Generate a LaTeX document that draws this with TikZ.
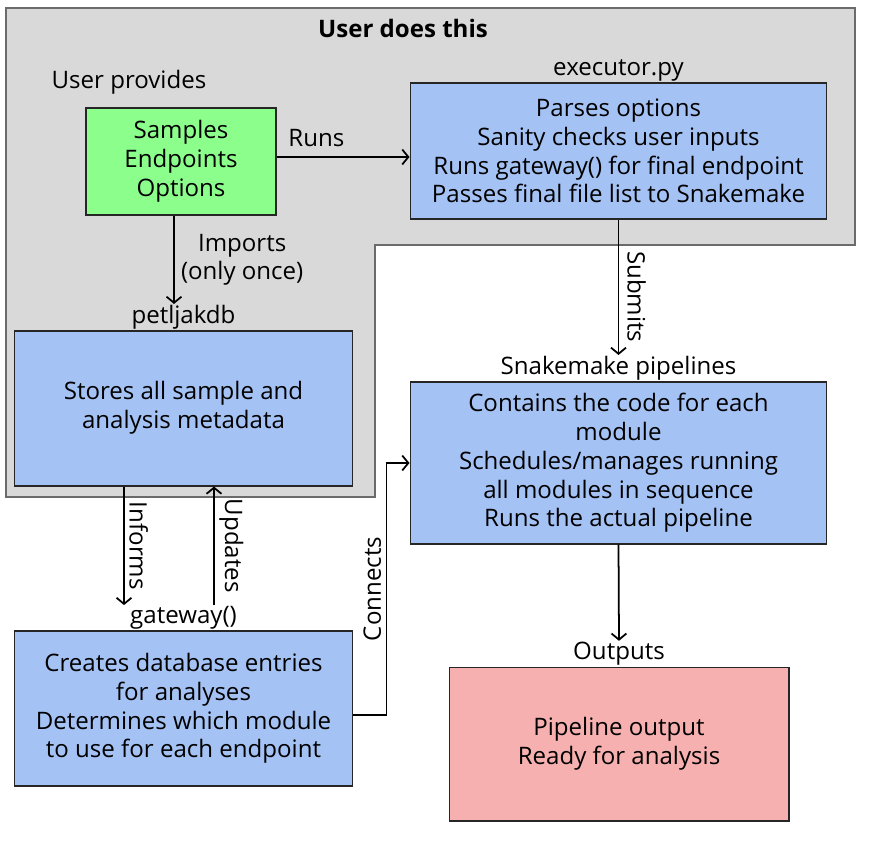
\documentclass[tikz,border=0pt]{standalone}
\usepackage{fontspec}
\setmainfont{Open Sans}
\usetikzlibrary{positioning, arrows.meta}
\definecolor{userbg}{HTML}{D9D9D9}
\definecolor{userline}{HTML}{6B6B6B}
\definecolor{boxblue}{HTML}{A4C2F4}
\definecolor{boxgreen}{HTML}{8CFE8C}
\definecolor{boxred}{HTML}{F6B0B0}

\begin{document}
\begin{tikzpicture}[
  x=0.02cm, y=-0.02cm,
  node distance=0cm and 0cm,
  >={Straight Barb[length=3.5pt,width=8.5pt]},
  txt/.style={font=\fontsize{13.7}{16.4}\selectfont},
  mybox/.style={txt,draw=black!85,line width=0.6pt,align=center,inner sep=0pt},
  mylabel/.style={txt,inner sep=0.5pt,align=center},
  link/.style={->,line width=1pt}
]
\useasboundingbox (0,0) rectangle (892,842);

% grey area the user deals with
\draw[fill=userbg, draw=userline, line width=1pt]
  (6,8) -- (855,8) -- (855,245) -- (375,245) -- (375,497) -- (6,497) -- cycle;
\node[txt,font=\fontsize{13.7}{16.4}\selectfont\bfseries] (title) at (403,28) {User does this};

\node[mybox,fill=boxgreen,minimum width=3.8cm,minimum height=2.14cm] (opts) at (181,161.5) {Samples\\Endpoints\\Options};
\node[mylabel] (optslbl) at (129,82) {User provides};

\node[mybox,fill=boxblue,minimum width=8.34cm,minimum height=2.72cm] (exec) at (618.5,151)
  {Parses options\\Sanity checks user inputs\\Runs gateway() for final endpoint\\Passes final file list to Snakemake};
\node[mylabel,above=of exec] (execlbl) {executor.py};

\node[mybox,fill=boxblue,minimum width=6.78cm,minimum height=3.1cm] (db) at (183.5,408.5)
  {\raisebox{-5pt}{\begin{tabular}{@{}c@{}}Stores all sample and\\analysis metadata\end{tabular}}};
\node[mylabel,above=of db] (dblbl) {petljakdb};

\node[mybox,fill=boxblue,minimum width=8.34cm,minimum height=3.24cm] (snake) at (618.5,463)
  {Contains the code for each\\module\\Schedules/manages running\\all modules in sequence\\Runs the actual pipeline};
\node[mylabel,above=of snake] (snakelbl) {Snakemake pipelines};

\node[mybox,fill=boxblue,minimum width=6.78cm,minimum height=3.1cm] (gate) at (183.5,708.5)
  {Creates database entries\\for analyses\\Determines which module\\to use for each endpoint};
\node[mylabel,above=of gate] (gatelbl) {gateway()};

\node[mybox,fill=boxred,minimum width=6.8cm,minimum height=3.08cm] (out) at (619,744)
  {Pipeline output\\Ready for analysis};
\node[mylabel,above=of out] (outlbl) {Outputs};

% connectors
\draw[link] ([yshift=0.09cm]opts.east) -- ([yshift=0.09cm]opts.east -| exec.west)
  node[mylabel,pos=0.3,above,yshift=5pt] (runs) {Runs};
\draw[link] ([xshift=-0.14cm]opts.south) -- ([xshift=-0.14cm]opts.south |- dblbl.north)
  node[mylabel,midway,right,xshift=3pt] (imports) {Imports\\(only once)};
\draw[link] (exec.south -| snakelbl.north) -- (snakelbl.north)
  node[mylabel,pos=0.57,rotate=-90,anchor=south,yshift=4pt] (submits) {Submits};
\draw[link] (snake.south) -- (outlbl.north);
\draw[link] ([xshift=-1.19cm]db.south) -- ([xshift=-1.19cm]db.south |- gatelbl.north)
  node[mylabel,midway,rotate=-90,anchor=south,yshift=2pt] (informs) {Informs};
\draw[link] ([xshift=0.61cm]db.south |- gatelbl.north) -- ([xshift=0.61cm]db.south)
  node[mylabel,midway,rotate=-90,anchor=south,yshift=2pt] (updates) {Updates};
\draw[link] ([yshift=-0.13cm]gate.east) -- ++(33,0) |- (snake.west)
  node[mylabel,pos=0.25,rotate=90,anchor=south,yshift=2pt] (connects) {Connects};

\end{tikzpicture}
\end{document}
